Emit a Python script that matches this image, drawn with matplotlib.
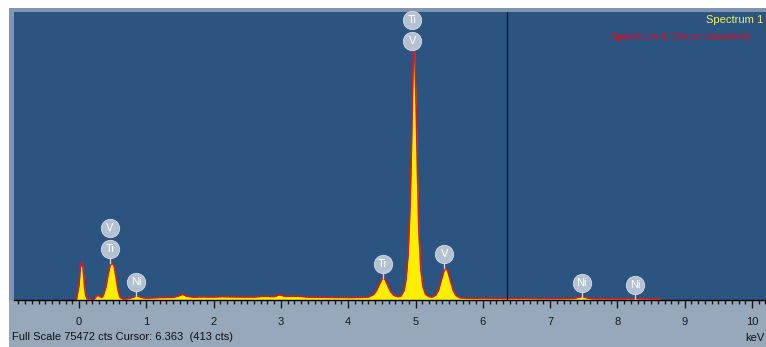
import numpy as np
import matplotlib
matplotlib.use("Agg")
import matplotlib.pyplot as plt
from matplotlib.patches import Rectangle

plt.rcParams['font.family'] = ['Liberation Sans', 'DejaVu Sans']

# EDS spectrum: energy (keV) and counts per channel
energy = [-0.04, 0.00, 0.02, 0.04, 0.06, 0.08, 0.10, 0.12, 0.16,
          0.22, 0.26, 0.28, 0.31, 0.34,
          0.36, 0.40, 0.43, 0.46, 0.49, 0.52, 0.55, 0.58, 0.61, 0.65,
          0.70, 0.78, 0.84, 0.86, 0.89, 0.95, 1.00,
          1.20, 1.40, 1.48, 1.54, 1.60, 1.70, 1.80, 2.00, 2.12, 2.30, 2.60,
          2.74, 2.90, 2.98, 3.05, 3.24, 3.40, 3.70, 4.00, 4.20,
          4.30, 4.38, 4.42, 4.46, 4.50, 4.52, 4.55, 4.59, 4.63, 4.68, 4.74,
          4.78, 4.83, 4.86, 4.89, 4.92, 4.94, 4.96, 4.975, 4.99, 5.01, 5.03,
          5.05, 5.08, 5.11, 5.15, 5.20,
          5.25, 5.30, 5.34, 5.38, 5.42, 5.45, 5.48, 5.52, 5.56, 5.60, 5.66,
          5.80, 6.20, 6.60, 7.00, 7.35, 7.42, 7.47, 7.52, 7.60,
          8.00, 8.26, 8.40, 8.63]
counts = [0, 4000, 8500, 10000, 8500, 4000, 1200, 300, 100,
          100, 1000, 1300, 900, 700,
          1200, 3500, 6500, 9000, 9700, 9000, 6000, 2500, 700, 300,
          300, 600, 1000, 1100, 900, 600, 500,
          650, 700, 1100, 1500, 1000, 750, 850, 800, 900, 850, 800,
          1000, 900, 1400, 1000, 1000, 800, 700, 650, 700,
          800, 1500, 2500, 4000, 5500, 5800, 5300, 3700, 2200, 1200, 900,
          1000, 2500, 5500, 12000, 25000, 40000, 58000, 68000, 64000, 50000, 33000,
          18000, 8000, 3500, 1500, 900,
          800, 1300, 2500, 5000, 7500, 8400, 7600, 5000, 2500, 1200, 600,
          450, 400, 400, 350, 400, 700, 900, 700, 350,
          300, 350, 300, 250]

full_scale = 75472
cursor_kev = 6.363
cursor_cts = 413

# Peak labels: energy of the marker and the element names, bottom to top
label_energy = [0.46, 0.85, 4.51, 4.95, 5.43, 7.47, 8.26]
label_elements = [["Ti", "V"], ["Ni"], ["Ti"], ["V", "Ti"], ["V"], ["Ni"], ["Ni"]]

tick_values = list(range(0, 11))

W, H = 766, 347
fig = plt.figure(figsize=(W / 100, H / 100), dpi=100)
fig.patch.set_facecolor("white")

# panel frame behind the plot
bg = fig.add_axes([0, 0, 1, 1])
bg.set_xlim(0, W)
bg.set_ylim(H, 0)
bg.axis("off")
bg.add_patch(Rectangle((9, 8), W - 9, H - 8, facecolor="#7f95b0", edgecolor="none"))
bg.add_patch(Rectangle((9, 300), W - 9, H - 300, facecolor="#97a8bb", edgecolor="none"))

ax = fig.add_axes([14 / W, (H - 300) / H, (W - 14) / W, 288 / H])
ax.set_facecolor("#2b5580")
ax.set_xlim(-0.966, 10.208)
ax.set_ylim(0, full_scale)

e = np.array(energy)
c = np.array(counts)
ax.fill_between(e, 0, c, color="#ffee00", lw=0, zorder=2)
ax.plot(e, c, color="#c8202a", lw=1.2, zorder=3, solid_joinstyle="round")

# cursor
ax.axvline(cursor_kev, color="#0e1a2a", lw=1.0, zorder=4)

for side in ("top", "right", "left"):
    ax.spines[side].set_visible(False)
ax.spines["bottom"].set_color("black")
ax.spines["bottom"].set_linewidth(1.0)
ax.set_yticks([])
ax.set_xticks(tick_values)
ax.set_xticklabels([str(t) for t in tick_values])
ax.set_xticks(np.arange(-0.9, 10.25, 0.1), minor=True)
ax.tick_params(axis="x", which="major", direction="out", length=6, width=1,
               color="#1a1a1a", labelsize=8, labelcolor="#1a1a1a", pad=6)
ax.tick_params(axis="x", which="minor", direction="out", length=3, width=1,
               color="#1a1a1a")

# element markers, stacked above the local peak maximum
fig.canvas.draw()
to_disp = ax.transData
to_data = ax.transData.inverted()
ax_top = ax.transAxes.transform((0, 1))[1]
radius = 9
for le, elems in zip(label_energy, label_elements):
    window = (e >= le - 0.06) & (e <= le + 0.06)
    y0 = float(max(c[window].max(), np.interp(le, e, c)))
    xd, yd = to_disp.transform((le, y0))
    centers = [yd + 14 + 21 * i for i in range(len(elems))]
    shift = max(0.0, centers[-1] - (ax_top - radius + 1))
    centers = [cy - shift for cy in centers]
    stem_top = to_data.transform((xd, centers[0] - radius))[1]
    if stem_top > y0:
        ax.plot([le, le], [y0, stem_top], color="#c9d3de", lw=1.0, zorder=5)
    for name, cy in zip(elems, centers):
        yc = to_data.transform((xd, cy))[1]
        ax.scatter([le], [yc], s=175, color="#b4c1d0", edgecolors="#d5dde6",
                   linewidths=0.6, zorder=6, clip_on=False)
        ax.text(le, yc, name, color="white", fontsize=8, ha="center",
                va="center", zorder=7)

# legend texts
fig.text(706 / W, 1 - 20 / H, "Spectrum 1", color="#f4f060", fontsize=8,
         ha="left", va="center")
fig.text(610 / W, 1 - 37 / H, "Spectrum 1 (Reconstructed)", color="#d0102a",
         fontsize=8, ha="left", va="center")

# status line
fig.text(12 / W, 1 - 337 / H,
         f"Full Scale {full_scale} cts Cursor: {cursor_kev:.3f}  ({cursor_cts} cts)",
         color="#111111", fontsize=8, ha="left", va="center")
fig.text(764 / W, 1 - 338 / H, "keV", color="#111111", fontsize=8,
         ha="right", va="center")

fig.savefig("out.png", dpi=100)
